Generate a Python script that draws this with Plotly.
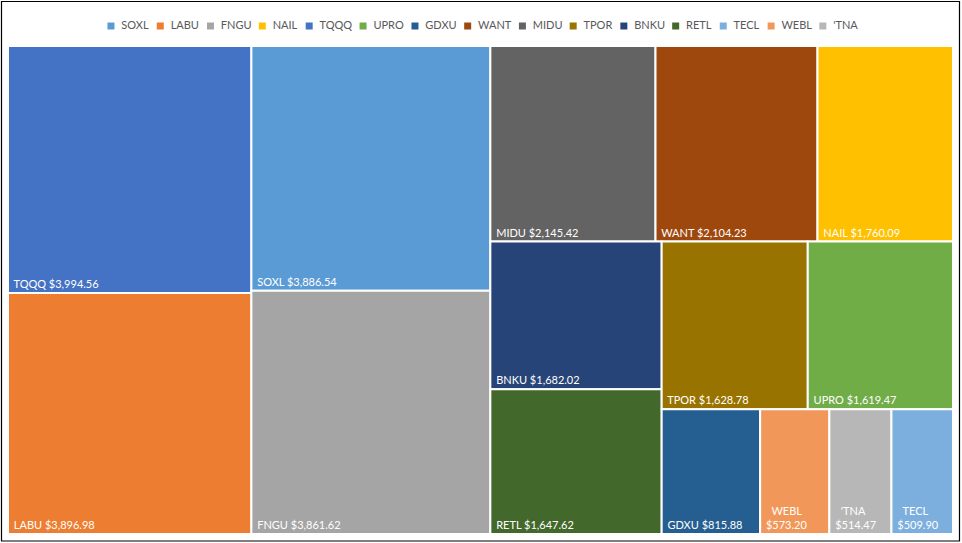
import plotly.graph_objects as go

tickers = ["SOXL", "LABU", "FNGU", "NAIL", "TQQQ", "UPRO", "GDXU", "WANT",
           "MIDU", "TPOR", "BNKU", "RETL", "TECL", "WEBL", "'TNA"]
values = [3886.54, 3896.98, 3861.62, 1760.09, 3994.56, 1619.47, 815.88, 2104.23,
          2145.42, 1628.78, 1682.02, 1647.62, 509.90, 573.20, 514.47]
colors = ["#5B9BD5", "#ED7D31", "#A5A5A5", "#FFC000", "#4472C4", "#70AD47",
          "#255E91", "#9E480E", "#636363", "#997300", "#264478", "#43682B",
          "#7CAFDD", "#F1975A", "#B7B7B7"]

W, H = 962, 543
NB = "\u00a0"

# label text: small tiles wrap onto two lines (label roughly centred over value)
texts = []
for t, v in zip(tickers, values):
    if v > 700:
        texts.append(f"{NB}{t} ${v:,.2f}")
    else:
        texts.append(f"{NB}{NB}{NB}{t}<br>{NB}${v:,.2f}")

fig = go.Figure()
fig.add_trace(go.Treemap(
    labels=tickers,
    parents=[""] * len(tickers),
    values=values,
    customdata=texts,
    texttemplate="%{customdata}",
    textposition="bottom left",
    textfont=dict(family="Lato", size=11, color="white"),
    marker=dict(colors=colors, line=dict(color="white", width=2),
                pad=dict(t=0, l=0, r=0, b=0)),
    sort=True,
    tiling=dict(packing="squarify", squarifyratio=1.06, pad=0),
    pathbar=dict(visible=False),
    hoverinfo="skip",
    domain=dict(x=[8 / W, 953 / W], y=[9 / H, 497 / H]),
))

# custom horizontal legend drawn as scatter rows on their own axes
cw = {"A": .68, "B": .65, "D": .73, "E": .56, "F": .54, "G": .71, "I": .28,
      "L": .50, "M": .88, "N": .75, "O": .78, "P": .60, "Q": .78, "R": .63,
      "S": .53, "T": .59, "U": .72, "W": 1.0, "X": .65, "'": .2, "C": .66}
fs = 11
tw = [0.88 * sum(cw.get(c, .6) for c in t) * fs for t in tickers]
sq, gap_in, gap_out = 7.3, 6.7, 11.5
item_w = [sq + gap_in + w + gap_out for w in tw]
total = sum(item_w) - gap_out
start = (W - total) / 2
xs, xt = [], []
acc = start
for w in item_w:
    xs.append(acc + sq / 2)
    xt.append(acc + sq + gap_in)
    acc += w

fig.add_trace(go.Scatter(
    x=xs, y=[0.5] * len(tickers),
    mode="markers",
    marker=dict(symbol="square", size=7, color=colors),
    hoverinfo="skip", showlegend=False, cliponaxis=False,
))
fig.add_trace(go.Scatter(
    x=xt, y=[0.5] * len(tickers),
    mode="text",
    text=tickers,
    textposition="middle right",
    textfont=dict(family="Lato", size=fs, color="#595959"),
    hoverinfo="skip", showlegend=False, cliponaxis=False,
))

fig.update_layout(
    width=W, height=H,
    margin=dict(l=0, r=0, t=0, b=0),
    paper_bgcolor="white",
    plot_bgcolor="rgba(0,0,0,0)",
    showlegend=False,
    xaxis=dict(range=[0, W], domain=[0, 1], visible=False, fixedrange=True),
    yaxis=dict(range=[0, 1], domain=[1 - 37 / H, 1 - 15 / H], visible=False, fixedrange=True),
    shapes=[dict(type="rect", xref="paper", yref="paper",
                 x0=1.5 / W, x1=1 - 2.5 / W, y0=2 / H, y1=1 - 1.5 / H,
                 line=dict(color="black", width=1.2), fillcolor="rgba(0,0,0,0)",
                 layer="above")],
    uniformtext=dict(minsize=10, mode="show"),
)

fig.write_html("out.html", config={"displayModeBar": False},
               post_script="document.body.style.margin='0';document.body.style.overflow='hidden';")
